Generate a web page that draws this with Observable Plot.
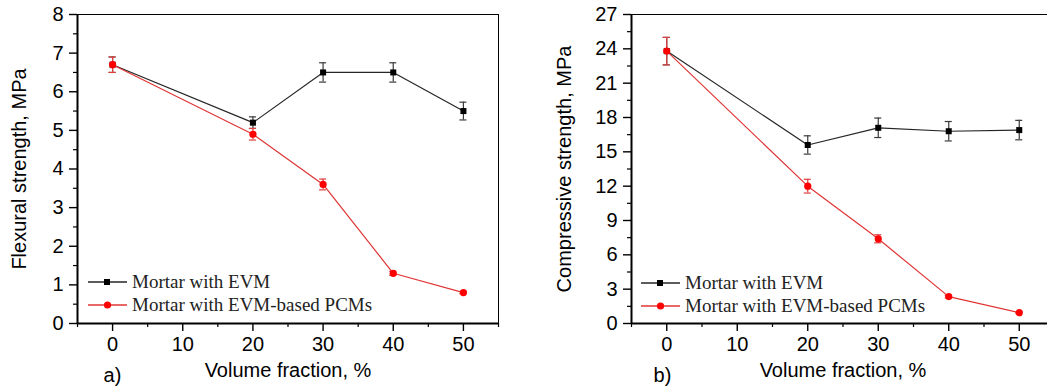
<!DOCTYPE html>
<html>
<head>
<meta charset="utf-8">
<script src="https://cdn.jsdelivr.net/npm/d3@7"></script>
<script src="https://cdn.jsdelivr.net/npm/@observablehq/plot@0.6"></script>
<style>
  html, body { margin: 0; padding: 0; background: #fff; }
  #wrap { position: relative; width: 1047px; height: 387px; overflow: hidden; background: #fff; }
  #wrap > svg, #wrap > div { position: absolute; top: 0; }
</style>
</head>
<body>
<div id="wrap"></div>
<script>
// Volume fraction of EVM / EVM-based PCM in the mortar, %
const volume = [0, 20, 30, 40, 50];

// Flexural strength, MPa (mean and ± error)
const flexEVM = [6.7, 5.2, 6.5, 6.5, 5.5];
const flexEVMErr = [0.2, 0.15, 0.25, 0.25, 0.23];
const flexPCM = [6.7, 4.9, 3.6, 1.3, 0.8];
const flexPCMErr = [0.2, 0.15, 0.14, 0.05, 0.03];

// Compressive strength, MPa (mean and ± error)
const compEVM = [23.8, 15.6, 17.1, 16.8, 16.9];
const compEVMErr = [1.2, 0.8, 0.85, 0.85, 0.85];
const compPCM = [23.8, 12.0, 7.4, 2.35, 0.95];
const compPCMErr = [1.2, 0.6, 0.35, 0.12, 0.06];

const seriesNames = ["Mortar with EVM", "Mortar with EVM-based PCMs"];
const lineColors = ["#262626", "#e03434"];
const markColors = ["#000000", "#ff0000"];
const errColors = ["#3a3a3a", "#e04040"];
const symbols = ["square", "circle"];

const xTicks = [0, 10, 20, 30, 40, 50];
const xMinor = [-5, 5, 15, 25, 35, 45, 55];

const wrap = document.getElementById("wrap");

function rows(values, errs, series) {
  return volume.map((v, i) => ({x: v, y: values[i], e: errs[i], series}));
}

function panel({left, width, marginLeft, plotWidth, rightEdge, yMax, yStep, yTitle, yTitleDx, tag, tagDx, data}) {
  const yTicks = d3.range(0, yMax + 1e-9, yStep);
  const yMinor = d3.range(yStep / 2, yMax, yStep);
  const marks = [
    // plot box: thin top (and right) edges, heavier axis lines
    Plot.ruleY([yMax], {stroke: "#000", strokeWidth: 1}),
    rightEdge ? Plot.ruleX([55], {stroke: "#000", strokeWidth: 1}) : null,
    Plot.ruleY([0], {stroke: "#000", strokeWidth: 2}),
    Plot.ruleX([-5], {stroke: "#000", strokeWidth: 2}),
    Plot.axisY({ticks: yTicks, tickSize: 8, tickPadding: 6, label: null, strokeWidth: 1.4}),
    Plot.axisY({ticks: yMinor, tickSize: 4, tickFormat: () => "", label: null, strokeWidth: 1.2}),
    Plot.axisX({ticks: xTicks, tickSize: 8, tickPadding: 5, label: null, strokeWidth: 1.4}),
    Plot.axisX({ticks: xMinor, tickSize: 4, tickFormat: () => "", label: null, strokeWidth: 1.2}),
    Plot.text([yTitle], {frameAnchor: "left", dx: yTitleDx, rotate: -90, textAnchor: "middle", lineAnchor: "middle", fontSize: 20, fill: "#000"}),
    Plot.text(["Volume fraction, %"], {frameAnchor: "bottom", dy: 47, textAnchor: "middle", lineAnchor: "middle", fontSize: 20, fill: "#000"}),
    Plot.text([tag], {frameAnchor: "bottom-left", dx: tagDx, dy: 52, textAnchor: "middle", lineAnchor: "middle", fontSize: 20, fill: "#000"})
  ];
  data.forEach((d, k) => {
    marks.push(
      Plot.line(d, {x: "x", y: "y", stroke: lineColors[k], strokeWidth: 1.2}),
      Plot.ruleX(d, {x: "x", y1: r => r.y - r.e, y2: r => r.y + r.e, stroke: errColors[k], strokeWidth: 1.2}),
      Plot.ruleY(d, {y: r => r.y + r.e, x1: r => r.x - 0.5, x2: r => r.x + 0.5, stroke: errColors[k], strokeWidth: 1.2}),
      Plot.ruleY(d, {y: r => r.y - r.e, x1: r => r.x - 0.5, x2: r => r.x + 0.5, stroke: errColors[k], strokeWidth: 1.2}),
      Plot.dot(d, {x: "x", y: "y", symbol: symbols[k], r: symbols[k] === "square" ? 3.4 : 3.6, fill: markColors[k], stroke: "none"})
    );
  });
  const svg = Plot.plot({
    width, height: 387,
    marginLeft, marginRight: width - marginLeft - plotWidth,
    marginTop: 14, marginBottom: 64,
    x: {domain: [-5, 55]},
    y: {domain: [0, yMax]},
    style: {fontFamily: "'Liberation Sans', Arial, sans-serif", fontSize: "20px", color: "#000", background: "transparent", overflow: "visible", maxWidth: "none"},
    marks
  });
  svg.style.left = left + "px";
  wrap.appendChild(svg);
}

function legend({left, top}) {
  const svg = d3.create("svg").attr("width", 330).attr("height", 50)
    .style("left", left + "px").style("top", top + "px").style("overflow", "visible");
  seriesNames.forEach((name, k) => {
    const g = svg.append("g").attr("transform", `translate(0,${12 + k * 23})`);
    g.append("line").attr("x1", 0).attr("x2", 39).attr("stroke", lineColors[k]).attr("stroke-width", 1.3);
    if (symbols[k] === "square") g.append("rect").attr("x", 16).attr("y", -3).attr("width", 6).attr("height", 6).attr("fill", markColors[k]);
    else g.append("circle").attr("cx", 19.5).attr("r", 3.6).attr("fill", markColors[k]);
    g.append("text").attr("x", 44).attr("dy", "0.33em")
      .attr("font-family", "'Liberation Serif', 'Times New Roman', serif")
      .attr("font-size", 19).attr("fill", "#222").text(name);
  });
  wrap.appendChild(svg.node());
}

panel({
  left: 0, width: 527, marginLeft: 77, plotWidth: 421, rightEdge: true, yMax: 8, yStep: 1,
  yTitle: "Flexural strength, MPa", yTitleDx: -58, tag: "a)", tagDx: 35,
  data: [rows(flexEVM, flexEVMErr, seriesNames[0]), rows(flexPCM, flexPCMErr, seriesNames[1])]
});
panel({
  left: 527, width: 540, marginLeft: 104, plotWidth: 423, rightEdge: false, yMax: 27, yStep: 3,
  yTitle: "Compressive strength, MPa", yTitleDx: -67, tag: "b)", tagDx: 31,
  data: [rows(compEVM, compEVMErr, seriesNames[0]), rows(compPCM, compPCMErr, seriesNames[1])]
});
legend({left: 88, top: 270});
legend({left: 641, top: 271});
</script>
</body>
</html>
